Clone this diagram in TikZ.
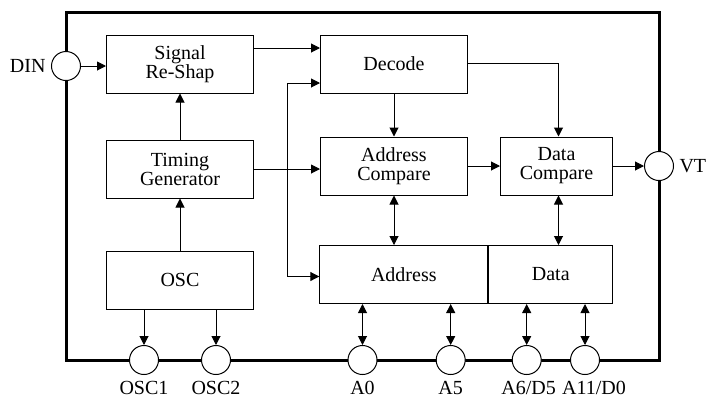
\documentclass[tikz,border=0pt]{standalone}
\usepackage{fontspec}
\setmainfont{Liberation Serif}
\usetikzlibrary{arrows.meta, positioning}

\begin{document}
\begin{tikzpicture}[x=1pt, y=-1pt, font=\rmfamily\fontsize{20}{19}\selectfont]
  \tikzstyle{block} = [rectangle, draw, line width=1pt, minimum width=147pt, minimum height=58pt, inner sep=2pt, align=center]
  \tikzstyle{pin} = [circle, draw, fill=white, line width=1pt, minimum size=29pt, inner sep=0pt]
  \tikzstyle{arrow} = [line width=1pt, -{Triangle[length=9pt,width=9pt]}]
  \tikzstyle{biarrow} = [line width=1pt, {Triangle[length=9pt,width=9pt]}-{Triangle[length=9pt,width=9pt]}]

  \useasboundingbox (0,0) rectangle (707,400);

  % chip outline
  \draw [line width=3pt] (66,12.7) rectangle (659,360);

  \node [block] (reshape) at (180,64) {Signal\\Re-Shap};
  \node [block, below=46pt of reshape] (timing) {Timing\\Generator};
  \node [block, below=52pt of timing] (osc) {OSC};
  \node [block, right=66pt of reshape] (decode) {Decode};
  \node [block, below=43pt of decode] (addrcmp) {Address\\Compare};
  \node [block, minimum width=112pt, right=32pt of addrcmp] (datacmp) {Data\\Compare};
  \node [block, minimum width=168pt, anchor=north west] (address) at (319.3,245) {Address};
  \node [block, minimum width=124pt, right=0pt of address] (data) {Data};

  % pins
  \node [pin] (din) at (66,66) {};
  \node [left=2pt of din] (dinlabel) {DIN};
  \node [pin] (vt) at (659,166) {};
  \node [right=2pt of vt] (vtlabel) {VT};
  \node [pin] (osc1) at (144,360) {};
  \node [pin] (osc2) at (216,360) {};
  \node [pin] (a0) at (362.5,360) {};
  \node [pin] (a5) at (450.7,360) {};
  \node [pin] (a6) at (526.7,360) {};
  \node [pin] (a11) at (585,360) {};
  \node [below=3pt of osc1] (osc1label) {OSC1};
  \node [below=3pt of osc2] (osc2label) {OSC2};
  \node [below=3pt of a0] (a0label) {A0};
  \node [below=3pt of a5] (a5label) {A5};
  \node [below=3pt of a6, xshift=2pt] (a6label) {A6/D5};
  \node [below=3pt of a11, xshift=9pt] (a11label) {A11/D0};

  \coordinate (bus) at (287.3,168);

  \draw [arrow] (din.east) -- (din.east -| reshape.west);
  \draw [arrow] (timing) -- (reshape);
  \draw [arrow] (osc) -- (timing);
  \draw [arrow] (osc.south -| osc1) -- (osc1);
  \draw [arrow] (osc.south -| osc2) -- (osc2);
  \draw [arrow] ([yshift=16pt]reshape.east) -- ([yshift=16pt]decode.west);
  \draw [arrow] (timing.east) -- (timing.east -| addrcmp.west);
  \draw [arrow] (bus) |- ([yshift=-19pt]decode.west);
  \draw [arrow] (bus) |- ([yshift=-2pt]address.west);
  \draw [arrow] (decode) -- (addrcmp);
  \draw [arrow] ([yshift=1pt]decode.east) -| ([xshift=2pt]datacmp.north);
  \draw [arrow] (addrcmp) -- (datacmp);
  \draw [arrow] (datacmp.east) -- (datacmp.east -| vt.west);
  \draw [biarrow] (addrcmp.south) -- (addrcmp.south |- address.north);
  \draw [biarrow] ([xshift=2pt]datacmp.south) -- ([xshift=2pt]datacmp.south |- data.north);
  \draw [biarrow] (address.south -| a0) -- (a0);
  \draw [biarrow] (address.south -| a5) -- (a5);
  \draw [biarrow] (data.south -| a6) -- (a6);
  \draw [biarrow] (data.south -| a11) -- (a11);
\end{tikzpicture}
\end{document}
